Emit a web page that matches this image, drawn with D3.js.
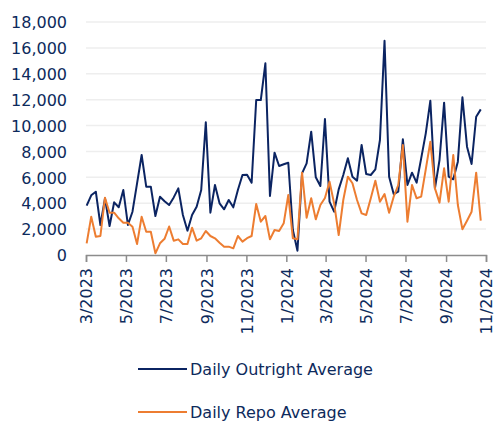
<!DOCTYPE html>
<html>
<head>
<meta charset="utf-8">
<script src="https://cdn.jsdelivr.net/npm/d3@7"></script>
<style>
  body { margin: 0; background: #fff; }
  text { font-family: "DejaVu Sans", Verdana, sans-serif; fill: #0d2a5c; }
</style>
</head>
<body>
<div id="chart-area"></div>
<script>
// weekly observations, first week starting 2 Mar 2023
const firstWeek = new Date(2023, 2, 2);

const outright = [
    3808, 4610, 4890, 2318, 4380, 2240, 4071, 3685, 5021, 2318,
    3345, 5539, 7725, 5276, 5276, 3013, 4504, 4150, 3862, 4450,
    5150, 3090, 1880, 3090, 3733, 5021, 10250, 3270, 5408, 3990,
    3530, 4249, 3683, 5021, 6180, 6200, 5585, 11974, 11974, 14810,
    4558, 7903, 6875, 7006, 7130, 1931, 332, 6310, 7083, 9525,
    6000, 5330, 10506, 4120, 3345, 5072, 6180, 7468, 6050, 5740,
    8498, 6257, 6180, 6618, 8884, 16555, 6050, 4712, 4890, 8936,
    5408, 6360, 5585, 7468, 9400, 11920, 5150, 7339, 11768, 6050,
    5848, 7210, 12180, 8370, 7030, 10680, 11250
];

const repo = [
    904, 2960, 1414, 1468, 4427, 3268, 3268, 2835, 2495, 2495,
    2186, 850, 2960, 1800, 1800, 131, 904, 1250, 2200, 1107,
    1210, 850, 850, 2110, 1107, 1288, 1854, 1468, 1288, 952,
    644, 644, 515, 1468, 1030, 1300, 1468, 3940, 2575, 3013,
    1210, 1931, 1854, 2446, 4635, 1288, 1210, 6360, 2884, 4380,
    2755, 3862, 4400, 5660, 3990, 1545, 4249, 6050, 5540, 4249,
    3220, 3090, 4380, 5740, 4120, 4712, 3270, 4507, 5408, 8498,
    2575, 5408, 4380, 4507, 6618, 8755, 5150, 4043, 6695, 4120,
    7725, 3862, 1983, 2650, 3345, 6360, 2650
];

const yTicks = [0, 2000, 4000, 6000, 8000, 10000, 12000, 14000, 16000, 18000];
const seriesNames = ["Daily Outright Average", "Daily Repo Average"];
const colors = ["#0b2462", "#ed7d31"];

const width = 495;
const height = 421;
const margin = { top: 22, right: 9, bottom: 166, left: 86 };
const innerW = width - margin.left - margin.right;
const innerH = height - margin.top - margin.bottom;

const weeks = outright.map((d, i) => d3.timeDay.offset(firstWeek, i * 7));

const svg = d3.select("#chart-area")
    .append("svg")
    .attr("width", width)
    .attr("height", height);

const g = svg.append("g")
    .attr("transform", `translate(${margin.left},${margin.top})`);

// escalas
const x = d3.scaleTime()
    .domain([new Date(2023, 2, 1), new Date(2024, 10, 1)])
    .range([0, innerW]);

const y = d3.scaleLinear()
    .domain([0, 18000])
    .range([innerH, 0]);

// lineas de la cuadricula
g.selectAll("line.grid")
    .data(yTicks.filter(d => d > 0))
    .enter()
    .append("line")
    .attr("class", "grid")
    .attr("x1", 0)
    .attr("x2", innerW)
    .attr("y1", d => y(d))
    .attr("y2", d => y(d))
    .attr("stroke", "#eeeeee")
    .attr("stroke-width", 1.5);

// eje Y
const leftAxis = d3.axisLeft(y)
    .tickValues(yTicks)
    .tickSize(0)
    .tickPadding(19)
    .tickFormat(d3.format(","));

g.append("g")
    .attr("class", "left axis")
    .call(leftAxis)
    .call(a => a.select(".domain").remove())
    .selectAll("text")
    .attr("font-size", "16px")
    .attr("dy", "0.36em");

// eje X
const bottomAxis = d3.axisBottom(x)
    .ticks(d3.timeMonth.every(2))
    .tickSize(7)
    .tickFormat(d3.timeFormat("%-m/%Y"));

const xAxis = g.append("g")
    .attr("class", "bottom axis")
    .attr("transform", `translate(0,${innerH})`)
    .call(bottomAxis);

xAxis.select(".domain")
    .attr("stroke", "#8c8c8c")
    .attr("stroke-width", 1.5);
xAxis.selectAll(".tick line")
    .attr("stroke", "#8c8c8c")
    .attr("stroke-width", 1.5);
xAxis.selectAll("text")
    .attr("font-size", "16px")
    .attr("text-anchor", "end")
    .attr("transform", "rotate(-90)")
    .attr("x", -13)
    .attr("y", 0)
    .attr("dy", "0.36em");

// lineas
const line = d3.line()
    .x((d, i) => x(weeks[i]))
    .y(d => y(d));

[outright, repo].forEach((values, k) => {
    g.append("path")
        .datum(values)
        .attr("fill", "none")
        .attr("stroke", colors[k])
        .attr("stroke-width", 2)
        .attr("stroke-linejoin", "round")
        .attr("d", line);
});

// leyenda
const legend = svg.append("g")
    .attr("transform", "translate(138,369)");

seriesNames.forEach((name, k) => {
    const row = legend.append("g")
        .attr("transform", `translate(0,${k * 43})`);
    row.append("line")
        .attr("x1", 0)
        .attr("x2", 49)
        .attr("stroke", colors[k])
        .attr("stroke-width", 2);
    row.append("text")
        .attr("x", 52)
        .attr("y", 0)
        .attr("dy", "0.36em")
        .attr("font-size", "16px")
        .text(name);
});
</script>
</body>
</html>
